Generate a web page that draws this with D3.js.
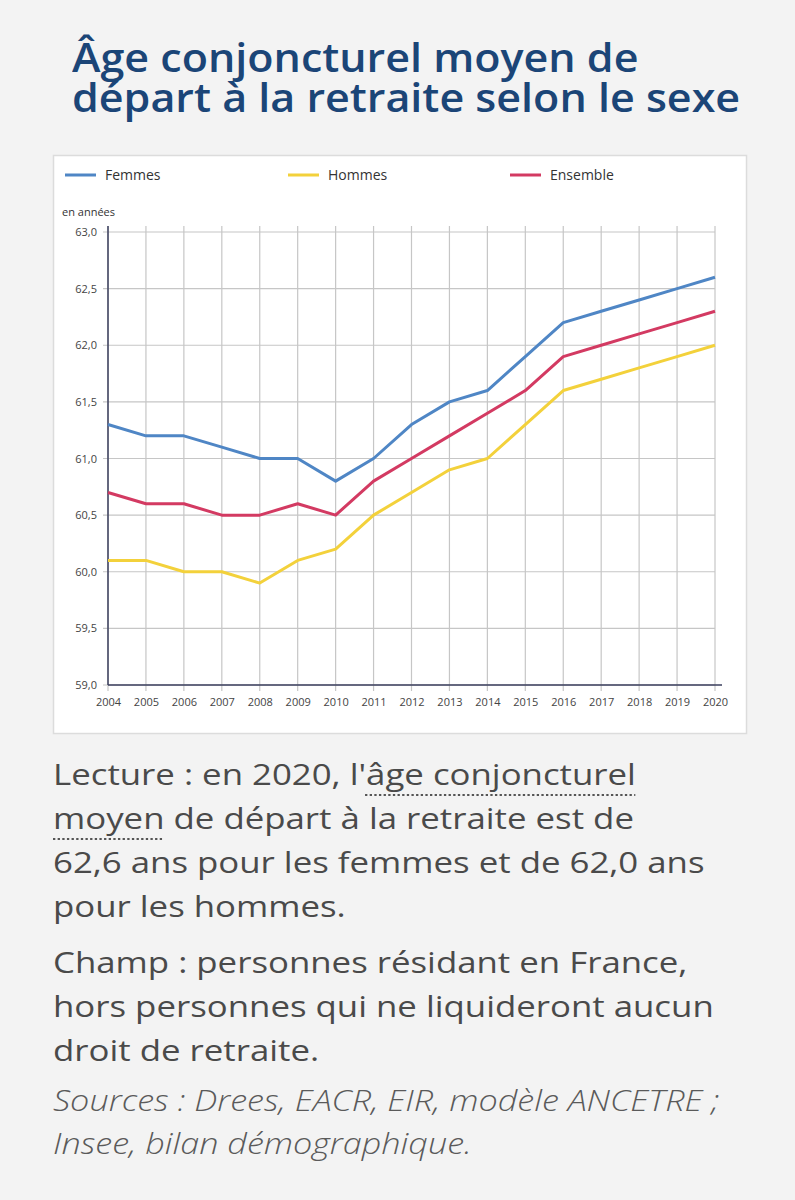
<!DOCTYPE html>
<html lang="fr">
<head>
<meta charset="utf-8">
<script src="https://cdn.jsdelivr.net/npm/d3@7"></script>
<style>
  html, body { margin: 0; padding: 0; }
  body { width: 795px; height: 1200px; background: #f3f3f3; position: relative; overflow: hidden; font-family: "Open Sans", sans-serif; }
  .title { position: absolute; left: 72px; top: 37px; font-size: 40px; font-weight: 600; color: #1b4577; line-height: 40px; white-space: nowrap; transform: scaleX(1.076); transform-origin: 0 0; }
  .txt { position: absolute; left: 53px; font-size: 30px; color: #4a4a4a; line-height: 44px; white-space: nowrap; transform: scaleX(1.16); transform-origin: 0 0; }
  .txt div, .src div { white-space: nowrap; }
  .dot { text-decoration: underline dotted #555; text-underline-offset: 9px; text-decoration-thickness: 1.5px; }
  .src { position: absolute; left: 53px; font-size: 30px; font-style: italic; font-weight: 300; color: #5a5a5a; line-height: 43px; transform: scaleX(1.14); transform-origin: 0 0; }
  svg { position: absolute; left: 0; top: 0; }
</style>
</head>
<body>
<div class="title"><div>Âge conjoncturel moyen de</div><div>départ à la retraite selon le sexe</div></div>
<svg id="chart" width="795" height="1200"></svg>
<div class="txt" style="top:752px">
  <div>Lecture : en 2020, l'<span class="dot">âge conjoncturel</span></div>
  <div><span class="dot">moyen</span> de départ à la retraite est de</div>
  <div>62,6 ans pour les femmes et de 62,0 ans</div>
  <div>pour les hommes.</div>
</div>
<div class="txt" style="top:940px">
  <div>Champ : personnes résidant en France,</div>
  <div>hors personnes qui ne liquideront aucun</div>
  <div>droit de retraite.</div>
</div>
<div class="src" style="top:1078px">
  <div>Sources : Drees, EACR, EIR, modèle ANCETRE ;</div>
  <div>Insee, bilan démographique.</div>
</div>
<script>
const years = [2004,2005,2006,2007,2008,2009,2010,2011,2012,2013,2014,2015,2016,2017,2018,2019,2020];
const femmes =   [61.3,61.2,61.2,61.1,61.0,61.0,60.8,61.0,61.3,61.5,61.6,61.9,62.2,62.3,62.4,62.5,62.6];
const hommes =   [60.1,60.1,60.0,60.0,59.9,60.1,60.2,60.5,60.7,60.9,61.0,61.3,61.6,61.7,61.8,61.9,62.0];
const ensemble = [60.7,60.6,60.6,60.5,60.5,60.6,60.5,60.8,61.0,61.2,61.4,61.6,61.9,62.0,62.1,62.2,62.3];
const yTicks = [59.0,59.5,60.0,60.5,61.0,61.5,62.0,62.5,63.0];
const seriesNames = ["Femmes","Hommes","Ensemble"];
const seriesColors = ["#4f86c5","#f3d13b","#d33a62"];
const seriesValues = [femmes, hommes, ensemble];
const yLabel = "en années";

const svg = d3.select("#chart");
const fmt = v => d3.format(".1f")(v).replace(".", ",");

// panel
svg.append("rect").attr("x",53.5).attr("y",155.5).attr("width",693).attr("height",578)
  .attr("fill","#fff").attr("stroke","#dcdcdc").attr("stroke-width",1.5);

const x = d3.scaleLinear().domain([2004,2020]).range([108,715]);
const y = d3.scaleLinear().domain([59,63]).range([685,232]);

// vertical grid
svg.append("g").selectAll("line").data(years).join("line")
  .attr("x1",d=>x(d)).attr("x2",d=>x(d)).attr("y1",226).attr("y2",691)
  .attr("stroke","#c6c6c6").attr("stroke-width",1.2);
// horizontal grid
svg.append("g").selectAll("line").data(yTicks).join("line")
  .attr("x1",x(2004)-5).attr("x2",x(2020)).attr("y1",d=>y(d)).attr("y2",d=>y(d))
  .attr("stroke","#c6c6c6").attr("stroke-width",1.2);

// axes
const yAxis = d3.axisLeft(y).tickValues(yTicks).tickFormat(fmt).tickSize(0).tickPadding(11);
const gy = svg.append("g").attr("transform",`translate(${x(2004)},0)`).call(yAxis);
gy.select(".domain").remove();
gy.selectAll("text").attr("font-family","Open Sans, sans-serif").attr("font-size",11).attr("fill","#444");

const xAxis = d3.axisBottom(x).tickValues(years).tickFormat(d3.format("d")).tickSize(0).tickPadding(13);
const gx = svg.append("g").attr("transform",`translate(0,${y(59)})`).call(xAxis);
gx.select(".domain").remove();
gx.selectAll("text").attr("font-family","Open Sans, sans-serif").attr("font-size",11).attr("fill","#444");

svg.append("line").attr("x1",x(2004)).attr("x2",x(2004)).attr("y1",226).attr("y2",y(59))
  .attr("stroke","#3b3f5e").attr("stroke-width",1.5);
svg.append("line").attr("x1",x(2004)).attr("x2",722).attr("y1",y(59)).attr("y2",y(59))
  .attr("stroke","#3b3f5e").attr("stroke-width",1.5);

svg.append("text").attr("x",62).attr("y",216).text(yLabel)
  .attr("font-family","Open Sans, sans-serif").attr("font-size",11).attr("fill","#333");

// lines
const line = d3.line().x((d,i)=>x(years[i])).y(d=>y(d));
seriesValues.forEach((vals,k)=>{
  svg.append("path").datum(vals).attr("d",line).attr("fill","none")
    .attr("stroke",seriesColors[k]).attr("stroke-width",3).attr("stroke-linejoin","round");
});

// legend
const legX = [65,288,510];
seriesNames.forEach((n,k)=>{
  const g = svg.append("g").attr("transform",`translate(${legX[k]},175)`);
  g.append("line").attr("x1",0).attr("x2",31).attr("y1",0).attr("y2",0)
    .attr("stroke",seriesColors[k]).attr("stroke-width",3);
  g.append("text").attr("x",40).attr("y",5).text(n)
    .attr("font-family","Open Sans, sans-serif").attr("font-size",14).attr("fill","#333");
});
</script>
</body>
</html>
